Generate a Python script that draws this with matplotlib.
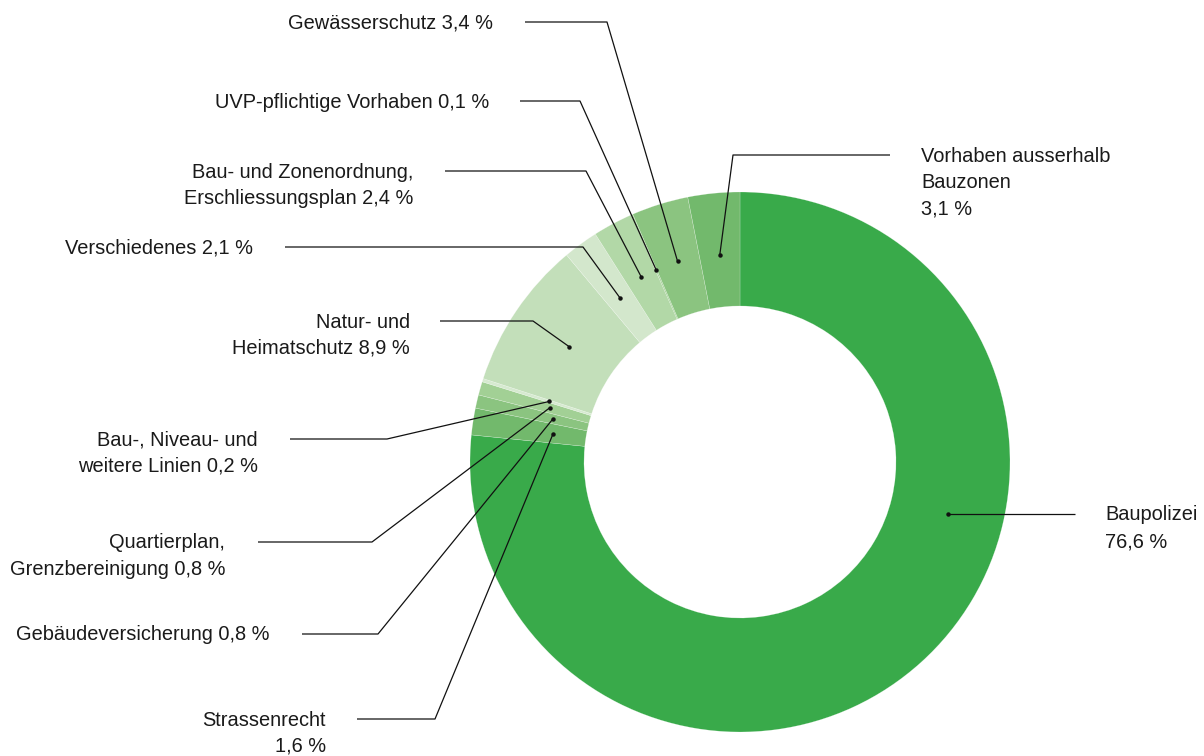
import numpy as np
import matplotlib.pyplot as plt

plt.rcParams['font.family'] = ['Liberation Sans', 'DejaVu Sans']

# data, clockwise from 12 o'clock
labels = ['Baupolizei\n76,6 %',
          'Strassenrecht\n1,6 %',
          'Gebäudeversicherung 0,8 %',
          'Quartierplan,\nGrenzbereinigung 0,8 %',
          'Bau-, Niveau- und\nweitere Linien 0,2 %',
          'Natur- und\nHeimatschutz 8,9 %',
          'Verschiedenes 2,1 %',
          'Bau- und Zonenordnung,\nErschliessungsplan 2,4 %',
          'UVP-pflichtige Vorhaben 0,1 %',
          'Gewässerschutz 3,4 %',
          'Vorhaben ausserhalb\nBauzonen\n3,1 %']
shares = [76.6, 1.6, 0.8, 0.8, 0.2, 8.9, 2.1, 2.4, 0.1, 3.4, 3.1]
colors = ['#39aa4a', '#72b96c', '#8bc480', '#a2d095', '#d6ead0', '#c3dfba',
          '#d3e7cc', '#b2d8a7', '#a2d095', '#8bc480', '#72b96c']

# layout (pixel coords, y from top): anchor radius, elbow x/y, line end x, text x, alignment
H = 756
cx, cy, R, W = 740, 462, 270, 114
anchor_r = [214, 189, 192, 198, 200, 206, 203, 210, 210, 210, 208]
elbow = [(1075, 514), (435, 719), (378, 634), (372, 542), (387, 439), (533, 321),
         (583, 247), (586, 171), (580, 101), (607, 22), (733, 155)]
line_end = [948, 357, 302, 258, 290, 440, 285, 445, 520, 525, 890]
text_x = [1105, 326, 270, 225, 258, 410, 253, 413, 489, 493, 921]
align = ['left'] + ['right'] * 9 + ['left']

fig = plt.figure(figsize=(12.04, 7.56), dpi=100)
ax = fig.add_axes([0, 0, 1, 1])

wedges, _ = ax.pie(shares, colors=colors, startangle=90, counterclock=False,
                   radius=R, center=(cx, H - cy),
                   wedgeprops=dict(width=W, edgecolor=(1, 1, 1, 0.45), linewidth=0.3))

ax.set_xlim(0, 1204)
ax.set_ylim(0, H)
ax.set_aspect('equal')
ax.axis('off')

for i, w in enumerate(wedges):
    ang = np.deg2rad((w.theta1 + w.theta2) / 2)
    if i == 0:
        # Baupolizei anchor sits on the horizontal leader
        ax_x = cx + anchor_r[i] * np.cos(np.deg2rad(-14))
        pts_x = [ax_x, line_end[i], elbow[i][0]]
        pts_y = [H - elbow[i][1]] * 3
    else:
        ax_x = cx + anchor_r[i] * np.cos(ang)
        ay = H - cy + anchor_r[i] * np.sin(ang)
        pts_x = [ax_x, elbow[i][0], line_end[i]]
        pts_y = [ay, H - elbow[i][1], H - elbow[i][1]]
    ax.plot(pts_x, pts_y, color='#111111', lw=0.9, solid_capstyle='butt')
    ax.plot(pts_x[0], pts_y[0], 'o', color='#111111', ms=2.2)

    for k, line in enumerate(labels[i].split('\n')):
        ax.text(text_x[i], H - (elbow[i][1] + 1 + k * 26.5), line,
                ha=align[i], va='center', fontsize=14.4, color='#1a1a1a')

fig.savefig('out.png', dpi=100)
